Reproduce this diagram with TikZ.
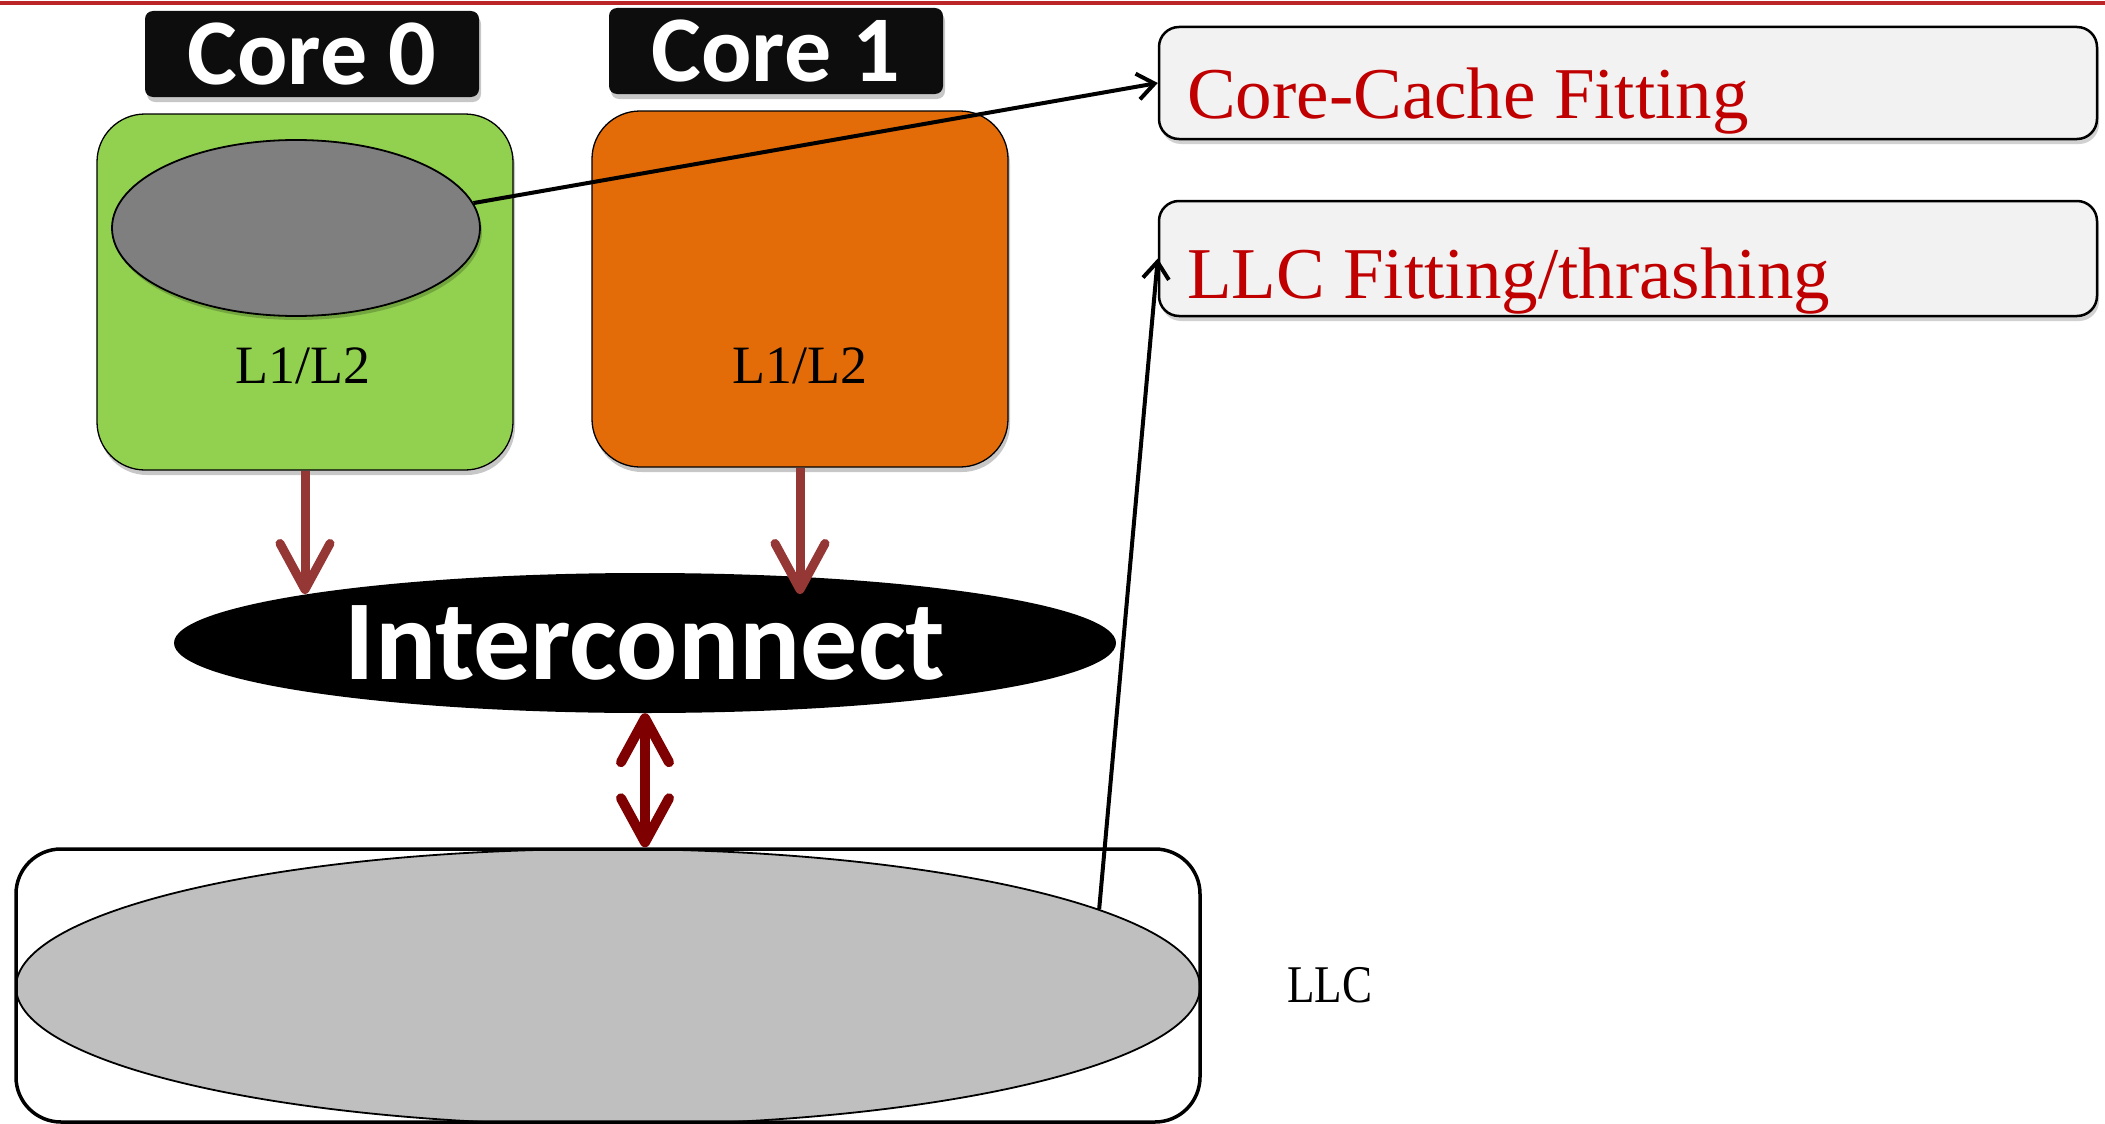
\documentclass[tikz,border=0pt]{standalone}
\usepackage{fontspec}
\setmainfont{Liberation Serif}
\newfontfamily\carlito{Carlito}
\usetikzlibrary{arrows.meta,shapes.geometric,shadows}

\definecolor{rulered}{RGB}{187,37,40}
\definecolor{labelblack}{RGB}{13,13,13}
\definecolor{coregreen}{RGB}{146,208,80}
\definecolor{coreorange}{RGB}{227,108,9}
\definecolor{cachegray}{RGB}{127,127,127}
\definecolor{llcgray}{RGB}{191,191,191}
\definecolor{boxfill}{RGB}{242,242,242}
\definecolor{notered}{RGB}{192,0,0}
\definecolor{busred}{RGB}{149,55,53}
\definecolor{llcred}{RGB}{127,0,0}

\begin{document}
\begin{tikzpicture}[x=1pt,y=-1pt,
  softshadow/.style={drop shadow={shadow xshift=2pt,shadow yshift=-5pt,opacity=0.22,fill=black}},
  corelabel/.style={fill=labelblack, rounded corners=8pt, minimum width=334pt,
    minimum height=86pt, inner sep=0pt, text=white,
    font=\carlito\bfseries\fontsize{94}{100}\selectfont, softshadow},
  corebox/.style={draw=black, line width=1.3pt, rounded corners=48pt,
    minimum width=416pt, minimum height=356pt, inner sep=0pt, softshadow},
  levellabel/.style={font=\fontsize{54}{60}\selectfont, inner sep=0pt, anchor=base},
  notebox/.style={draw=black, line width=2.5pt, fill=boxfill, rounded corners=20pt,
    minimum width=938pt, inner sep=0pt,
    drop shadow={shadow xshift=2pt,shadow yshift=-5pt,opacity=0.18,fill=black}},
  notetext/.style={text=notered, font=\fontsize{73}{80}\selectfont, inner sep=0pt, anchor=base west},
  pointer/.style={draw=black, line width=4pt, -{Straight Barb[length=17pt,width=26pt]}},
  busarrow/.style={draw=busred, line width=9pt, -{Straight Barb[length=46pt,width=50pt,round]}},
  llcarrow/.style={draw=llcred, line width=10pt, {Straight Barb[length=44pt,width=48pt,round]}-{Straight Barb[length=44pt,width=48pt,round]}}
]
\useasboundingbox (0,0) rectangle (2105,1124);

% top rule
\coordinate (ruleL) at (0,3.5);
\coordinate (ruleR) at (2105,3.5);
\draw[rulered, line width=4pt] (ruleL) -- (ruleR);

% core labels
\node[corelabel] (core0) at (312,54) {Core 0};
\node[corelabel] (core1) at (776,51) {Core 1};

% private caches
\node[corebox, fill=coregreen] (pc0) at (305,292) {};
\node[corebox, fill=coreorange] (pc1) at (800,289) {};
\node[ellipse, draw=black, line width=1.8pt, fill=cachegray, minimum width=368pt,
  minimum height=176pt, inner sep=0pt,
  drop shadow={shadow xshift=2pt,shadow yshift=-4pt,opacity=0.2,fill=black}] (ws0) at (296,228) {};
\node[levellabel] (l12a) at (303,383) {L1/L2};
\node[levellabel] (l12b) at (800,383) {L1/L2};

% interconnect
\node[ellipse, fill=black, minimum width=942pt, minimum height=140pt, inner sep=0pt,
  text=white, font=\carlito\bfseries\fontsize{114}{120}\selectfont] (icn) at (645,643) {Interconnect};

% last level cache
\node[ellipse, draw=black, line width=1.8pt, fill=llcgray, minimum width=1184pt,
  minimum height=276pt, inner sep=0pt] (llcell) at (608,987) {};
\node[draw=black, line width=3.5pt, rounded corners=45pt, minimum width=1184pt,
  minimum height=273pt, inner sep=0pt] (llcbox) at (608,985.5) {};
\node[inner sep=0pt, anchor=base west, font=\fontsize{53}{60}\selectfont] (llclabel) at (1287,1002) {\scalebox{0.85}[1]{LLC}};

% notes
\node[notebox, minimum height=112pt] (fitcore) at (1628,83) {};
\node[notetext] (fitcoretext) at (1187,118) {Core-Cache Fitting};
\node[notebox, minimum height=115pt] (fitllc) at (1628,258.5) {};
\node[notetext] (fitllctext) at (1187,298) {LLC Fitting/thrashing};

% connectors
\coordinate (bustip) at (0,594);
\draw[busarrow] (pc0.south) -- (pc0.south |- bustip);
\draw[busarrow] (pc1.south) -- (pc1.south |- bustip);
\draw[llcarrow] (icn.south) -- (icn.south |- llcbox.north);
\draw[pointer] (ws0.8) -- (fitcore.west);
\draw[pointer] (llcell.9) -- (fitllc.west);
\end{tikzpicture}
\end{document}
